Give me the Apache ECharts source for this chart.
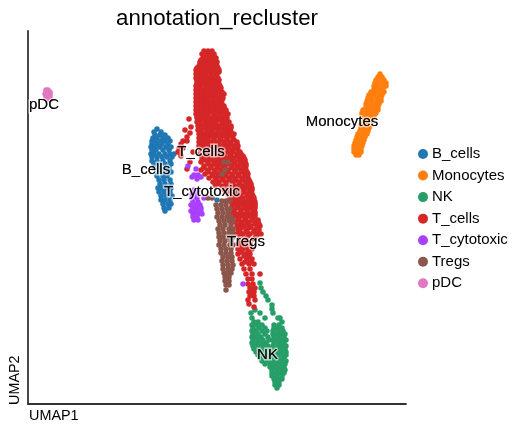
<!DOCTYPE html>
<html><head><meta charset="utf-8">
<style>html,body{margin:0;padding:0;background:#fff}#c{width:522px;height:432px}</style>
<script src="https://cdn.jsdelivr.net/npm/echarts@6/dist/echarts.min.js"></script>
</head><body><div id="c"></div>
<script>
const names = ['B_cells','Monocytes','NK','T_cells','T_cytotoxic','Tregs','pDC'];
const colors = ['#1f77b4','#ff7f0e','#279e68','#d62728','#aa40fc','#8c564b','#e377c2'];
// Each row: [UMAP2, UMAP1, UMAP1, ...]
const bCells = [
[27.5,12.9],[27.2,12.6,13.3],[26.9,12.7,13.2,13.7],[26.6,12.5,12.9,13.5,14.0],[26.3,12.4,12.8,13.3,13.7,14.2],
[26.0,12.4,12.9,13.4,14.0],[25.7,12.3,12.7,13.2,13.8,14.3],[25.4,12.4,12.8,13.5,14.1],[25.0,12.3,12.6,13.1,13.7,14.2,14.6],
[24.7,12.4,12.9,13.4,13.9,14.4],[24.3,12.4,12.9,13.5,14.2],[24.0,12.6,13.1,13.7,14.3],[23.6,12.6,13.2,13.8,14.1],
[23.2,12.9,13.4,14.0,14.3],[22.8,12.9,13.5,13.9],[22.4,13.1,13.6,14.2],[22.0,13.2,13.7,14.3],[21.6,13.0,13.4,13.9,14.3],
[21.2,13.1,13.6,14.2],[20.8,13.3,13.8,14.4],[20.4,13.3,13.7,14.2],[20.0,13.5,14.0,14.3],[19.6,13.6,14.1],[19.3,13.7],[20.4,18.9]];
const monocytes = [
[33.0,35.2],[32.7,35.0,35.4],[32.4,34.8,35.3,35.6],[32.1,34.7,35.1,35.6,35.8],[31.8,34.6,35.0,35.5,35.8],[31.5,34.6,35.1,35.5],
[31.2,34.3,34.8,35.2,35.6],[30.9,34.1,34.6,35.1,35.4],[30.6,34.0,34.4,34.9,35.3],[30.3,33.9,34.4,34.9,35.3],[30.0,33.8,34.3,34.8,35.1],
[29.7,33.8,34.2,34.7,35.0],[29.4,33.5,34.0,34.5,35.0],[29.1,33.4,33.9,34.4,34.8],[28.8,33.4,33.9,34.3,34.6],[28.5,33.6,34.0,34.4],
[28.2,33.6,34.0,34.3],[27.9,33.3,33.7,34.2],[27.6,33.3,33.7,34.1],[27.3,33.2,33.6,34.0],[27.0,33.0,33.5,33.9],[26.7,32.9,33.4,33.7],
[26.4,32.8,33.2,33.6],[26.1,32.7,33.0,33.5],[25.8,32.6,33.1,33.4],[25.5,32.6,32.9,33.3],[25.2,32.6,33.0,33.3],[24.9,32.8,33.1]];
const nk = [
[12.1,23.2],[11.6,23.3],[11.2,23.5],[10.8,23.8],[10.4,24.0],[9.9,24.4],[9.5,24.4],[9.1,24.5],[8.6,25.0,25.2],[8.2,25.4],
[9.4,22.7],[9.1,22.3,23.2],[8.6,22.4,23.7],[8.2,23.0,22.6],[7.9,22.4,22.9,23.4,24.6,25.1],
[7.6,22.5,23.1,23.7,24.6,25.0,25.4],[7.3,22.4,22.8,23.4,23.9,24.5,25.0,25.5],[7.0,22.5,23.0,23.7,24.5,24.9,25.3,25.7],
[6.7,22.4,22.8,23.3,24.0,24.6,25.1,25.6],[6.4,22.5,23.0,23.5,24.1,24.5,24.9,25.4,25.8],[6.1,22.4,22.9,23.4,23.8,24.6,25.1,25.6],
[5.8,22.5,23.0,23.5,24.0,24.5,25.0,25.4,25.8],[5.5,22.6,23.1,23.6,24.1,24.7,25.2,25.7],[5.2,22.8,23.3,23.8,24.3,24.8,25.3,25.8],
[4.9,23.0,23.5,24.0,24.5,25.0,25.5,25.8],[4.6,23.2,23.7,24.2,24.6,25.1,25.6],[4.3,23.4,23.9,24.4,24.9,25.4,25.8],[4.0,23.7,24.2,24.7,25.2,25.7],
[3.7,24.2,24.6,25.1,25.6],[3.4,24.4,24.9,25.4,25.7],[3.1,24.4,24.8,25.2,25.6],[2.8,24.4,24.9,25.4],[2.5,24.6,25.0,25.4],[2.2,24.7,25.1],[1.9,24.7,25.1],[1.6,24.9]];
const tCells = [
[35.3,17.6,18.0,18.4],[35.0,17.4,17.8,18.2,18.6],[34.6,17.5,17.9,18.4,18.8],[34.2,17.2,17.6,18.1,18.6,18.9],
[33.8,17.1,17.5,18.0,18.5,18.9],[33.4,16.8,17.2,17.7,18.2,18.8,19.1],[33.0,16.8,17.1,17.6,18.3,18.9],[32.6,16.8,17.2,17.5,18.0,18.6,19.0],
[32.2,16.9,17.4,17.9,18.5,19.0],[31.8,16.8,17.2,17.8,18.3,18.8,19.2],[31.4,16.8,17.2,17.6,18.1,18.6,19.2],[31.0,16.8,17.1,17.7,18.2,18.7,19.3,19.6],
[30.6,16.8,17.2,17.5,18.0,18.5,19.1,19.5],[30.2,16.8,17.1,17.6,18.2,18.8,19.2],[29.8,16.8,17.2,17.5,18.1,18.6,19.2,19.6],
[29.4,16.8,17.1,17.7,18.2,18.7,19.3,19.8],[29.0,16.8,17.2,17.5,18.0,18.6,19.1,19.7,20.0],[28.6,16.9,17.2,17.7,18.3,18.9,19.4,19.9],
[28.2,16.9,17.2,17.8,18.3,18.8,19.5,20.1],[27.8,17.0,17.4,17.9,18.5,19.1,19.7,20.3],[27.4,17.0,17.3,17.9,18.4,19.0,19.6,20.1],
[27.0,17.1,17.6,18.2,18.8,19.3,20.0,20.6],[26.6,17.1,17.5,18.0,18.6,19.2,19.9,20.5],[26.2,17.1,17.7,18.3,18.9,19.6,20.2,20.9],
[25.8,17.1,17.6,18.2,18.8,19.4,20.0,20.6,21.0],[25.4,17.3,17.9,18.5,19.1,19.8,20.4,21.0],[25.0,17.2,17.7,18.4,19.0,19.6,20.2,20.9,21.3],
[24.6,17.4,18.0,18.6,19.3,20.0,20.6,21.2,21.6],[24.2,17.3,18.0,18.7,19.4,20.1,20.7,21.4,21.7],[23.8,17.6,18.3,18.9,19.5,20.3,20.9,21.5,21.8],
[23.4,17.3,18.0,18.7,19.3,20.0,20.7,21.3,21.8],[23.0,17.7,18.4,19.0,19.6,20.4,21.0,21.7,22.0],[22.6,18.1,18.8,19.4,20.1,20.7,21.4,22.0],
[22.2,18.5,19.1,19.8,20.5,21.1,21.8,22.2],[21.8,18.7,19.4,20.2,20.9,21.5,22.1,22.3],[21.4,19.6,20.3,21.0,21.6,22.2,22.4],
[21.0,20.0,20.7,21.3,21.9,22.4],[20.6,20.2,20.9,21.5,22.2,22.6],[20.2,20.3,21.0,21.7,22.3,22.7],[19.8,20.4,21.1,21.8,22.4,22.7],
[19.4,20.6,21.3,21.9,22.5],[19.0,20.3,21.0,21.7,22.4,22.7],[18.6,20.4,21.1,21.8,22.5],[18.2,20.7,21.4,22.1,22.7,23.0],[17.8,20.9,21.6,22.3,23.0,23.2],
[17.4,21.0,21.8,22.6,23.1],[17.0,20.9,21.5,22.2,23.0,23.3],[16.5,21.2,21.8,22.6],[16.0,21.0,21.6,22.2],[15.5,21.0,21.5,22.0,22.4],[15.0,21.0,21.7,22.2],
[14.5,21.2,21.9,22.4],[14.0,21.4,22.1,22.6],[13.5,21.6,22.2],[13.0,21.8,22.4,23.2],[12.5,22.0,22.4],[12.0,22.0,22.5],[11.6,22.2,22.7],[11.2,22.1,22.6],[10.8,22.2,22.6],[10.4,22.0,22.7],[10.0,22.1],[9.7,22.6],
[28.5,16.1],[27.7,16.3],[27.4,15.7],[27.1,16.2],[26.7,15.9],[26.3,15.5,15.9],[26.0,15.3],[25.6,15.1,15.5],[25.2,15.2,15.0],[24.8,15.3],[25.2,16.5],[24.2,16.2],[23.5,15.9]];
const tCellsFill = [
[34.8,17.6,18.1,18.6],[34.4,17.3,17.8,18.3,18.7],[34.0,17.2,17.7,18.2,18.8],[33.6,16.9,17.4,17.9,18.4,19.0],[33.2,16.9,17.4,17.9,18.6,19.1],
[32.8,16.9,17.3,17.8,18.3,18.8],[32.4,16.9,17.2,17.7,18.2,18.7,19.1],[32.0,16.9,17.0,17.5,18.1,18.6,19.1],[31.6,16.9,17.3,17.9,18.4,18.9,19.3],[31.2,16.9,17.4,17.9,18.5,19.0,19.4],
[30.8,16.9,17.3,17.8,18.3,18.8,19.4],[30.4,16.9,17.3,17.9,18.5,19.0,19.4],[30.0,16.9,17.3,17.8,18.4,18.9,19.4],[29.6,16.9,17.4,17.9,18.5,19.0,19.6],[29.2,16.9,17.3,17.8,18.3,18.9,19.4,19.8],
[28.8,16.9,17.4,18.0,18.6,19.2,19.7],[28.4,17.0,17.5,18.1,18.6,19.2,19.8],[28.0,17.1,17.7,18.2,18.8,19.4,20.0],[27.6,17.1,17.6,18.2,18.7,19.3,19.9,20.3],[27.2,17.3,17.9,18.5,19.1,19.7,20.3],
[26.8,17.2,17.8,18.4,19.0,19.6,20.2],[26.4,17.4,18.0,18.6,19.3,19.9,20.6],[26.0,17.3,17.9,18.5,19.1,19.7,20.3,20.9],[25.6,17.6,18.2,18.8,19.5,20.1,20.7],[25.2,17.4,18.0,18.7,19.3,19.9,20.5,21.2],
[24.8,17.7,18.3,18.9,19.6,20.3,20.9,21.5],[24.4,17.6,18.3,19.0,19.7,20.4,21.1,21.7],[24.0,18.0,18.6,19.2,19.9,20.6,21.2,21.8],[23.6,17.6,18.3,19.0,19.7,20.4,21.0,21.6],[23.2,18.0,18.7,19.3,20.0,20.7,21.4,21.9],
[22.8,18.5,19.1,19.8,20.4,21.1,21.7],[22.4,18.8,19.5,20.2,20.8,21.5,22.1],[22.0,19.0,19.8,20.5,21.2,21.8,22.3],[21.6,20.0,20.7,21.3,21.9,22.4],[21.2,20.3,21.0,21.6,22.2],[20.8,20.5,21.2,21.9,22.5],[20.4,20.6,21.3,22.0,22.6],[20.0,20.7,21.4,22.1,22.7],
[19.6,20.9,21.6,22.2,22.7],[19.2,20.6,21.3,22.0,22.7],[18.8,20.7,21.4,22.1,22.7],[18.4,21.0,21.7,22.4,23.0],[18.0,21.2,21.9,22.7,23.1],[17.6,21.3,22.1,22.9],[17.2,21.2,21.9,22.6],[16.8,21.2,22.0,22.8],[16.2,21.3,21.9],[15.8,21.3,21.8],[15.2,21.3,22.0],[14.8,21.6,22.1],[14.2,21.7,22.3],[11.4,22.4],[10.9,22.4]];
const tCytotoxic = [
[23.8,16.0],[23.5,16.8],[22.9,17.0,16.6],[22.7,16.4,17.3],[22.5,16.9],[21.4,16.6,17.0],[21.0,16.4,16.9],[20.6,16.4,16.9,17.6],[20.2,16.5,17.0],
[19.9,16.3,16.8,17.2],[19.6,16.5,16.9,17.3],[19.3,16.3,16.8,17.3],[19.0,16.5,17.0,17.4],[18.7,16.5,16.9],[18.4,16.6,17.0],[12.0,21.5]];
const tregs = [
[20.6,18.0,18.4],[20.3,19.4,19.8,20.2],[19.9,18.8,19.3,19.8],[19.5,18.9,19.4,19.9,20.2],[19.1,19.0,19.5,20.0],[18.7,18.9,19.4,19.9,20.3],
[18.3,19.1,19.6,20.1,20.5],[17.9,19.2,19.7,20.3],[17.5,19.0,19.5,20.1,20.5],[17.1,19.1,19.6,20.1,20.5],[16.7,19.1,19.5,20.0,20.5],[16.3,19.2,19.7,20.3],
[15.9,19.1,19.6,20.2,20.5],[15.5,19.3,19.8,20.3],[15.1,19.3,19.8,20.3],[14.7,19.5,20.0,20.4],[14.3,19.4,19.9,20.4],[13.9,19.5,20.0,20.5],[13.5,19.5,20.0,20.4],
[13.1,19.6,20.0,20.3],[12.7,19.7,20.1],[12.3,19.7,20.1],[11.9,19.8,20.1],[11.4,19.8],[23.4,19.7],[23.0,19.4],[24.2,19.6,20.0]];
const pDC = [[31.4,1.8,2.0],[31.2,1.8,2.0,2.2],[31.0,1.7,2.0,2.2],[30.7,1.8,2.1,2.2],[30.4,1.9,2.2]];
const labelPoints = [
['B_cells',11.8,23.45],['Monocytes',31.4,28.25],['NK',23.95,4.9],['T_cells',17.3,25.25],['T_cytotoxic',17.4,21.25],['Tregs',21.8,16.2],['pDC',1.6,29.9]];
const clusterRows = [bCells,monocytes,nk,tCells.concat(tCellsFill),tCytotoxic,tregs,pDC];

const toPoints = rows => rows.flatMap(r => r.slice(1).map(x => [x, r[0]]));
const font = '"Liberation Sans", Arial, sans-serif';
const chart = echarts.init(document.getElementById('c'), null, {renderer:'canvas'});
const axisBase = {type:'value',min:0,splitLine:{show:false},axisTick:{show:false},axisLabel:{show:false},
  axisLine:{show:true,onZero:false,lineStyle:{color:'#333',width:1.8}}};
const labelData = labelPoints.map(p=>({name:p[0],value:[p[1],p[2]]}));
const labelSeries = (z,extra) => ({type:'scatter',symbolSize:0,silent:true,z,data:labelData,
  label:{show:true,position:'inside',formatter:'{b}',fontFamily:font,fontSize:15,color:'#000',...extra}});
chart.setOption({
  animation:false,
  title:{text:'annotation_recluster',left:212,top:3,textAlign:'center',textStyle:{fontFamily:font,fontSize:22.3,fontWeight:'normal',color:'#000'}},
  grid:{left:28,top:31,width:378,height:373,containLabel:false},
  legend:{data:names,orient:'vertical',left:413,top:140.5,icon:'circle',itemWidth:10,itemHeight:10,itemGap:4.55,
    textStyle:{fontFamily:font,fontSize:15,color:'#000',padding:[0,0,0,-1],lineHeight:17}},
  xAxis:{...axisBase,max:37.8,name:'UMAP1',nameLocation:'start',nameGap:0,
    nameTextStyle:{fontFamily:font,fontSize:14.4,color:'#000',align:'left',verticalAlign:'top',padding:[5,0,0,1]}},
  yAxis:{...axisBase,min:0,max:37.3,name:'UMAP2',nameLocation:'start',nameGap:1,nameRotate:90,
    nameTextStyle:{fontFamily:font,fontSize:14.4,color:'#000',align:'left',verticalAlign:'bottom',padding:[0,0,6,0]}},
  series:[
    ...names.map((n,i)=>({name:n,type:'scatter',symbolSize:5.5,data:toPoints(clusterRows[i]),itemStyle:{color:colors[i],opacity:1},silent:true})),
    labelSeries(5,{textBorderColor:'rgba(255,255,255,0.75)',textBorderWidth:3}),
    labelSeries(6,{})
  ]
});
</script></body></html>
